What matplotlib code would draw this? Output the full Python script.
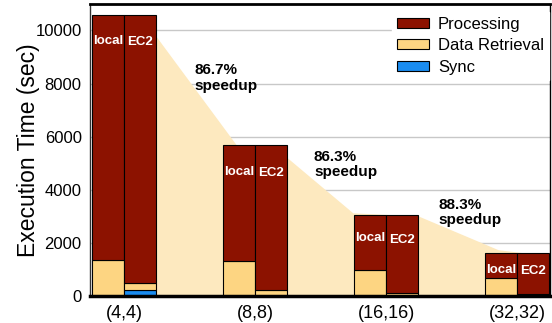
import matplotlib
matplotlib.use("Agg")
import matplotlib.pyplot as plt
from matplotlib.patches import Polygon
import numpy as np

# data
configs = ["(4,4)", "(8,8)", "(16,16)", "(32,32)"]
local_retrieval = [1380, 1310, 1000, 680]
local_processing = [9220, 4370, 2070, 950]
ec2_sync = [230, 0, 0, 0]
ec2_retrieval = [270, 240, 120, 90]
ec2_processing = [10100, 5440, 2950, 1540]
speedups = ["86.7%", "86.3%", "88.3%"]

# outline of the shaded "speedup" band (data coordinates)
shade_x = [0.25, 0.25, 0.86, 1.25, 1.75, 2.25, 2.86, 3.25, 3.25]
shade_y = [0, 9750, 5680, 5190, 3120, 3000, 1730, 1500, 0]

C_PROC = "#8c1200"
C_DATA = "#fdd582"
C_SYNC = "#1a8cf0"
C_SHADE = "#fde9bf"


def use_custom_matplotlib_formatting():
    matplotlib.rcParams["font.family"] = ["Liberation Sans", "DejaVu Sans"]
    matplotlib.rcParams["font.size"] = 12.0
    matplotlib.rcParams["xtick.major.size"] = 0
    matplotlib.rcParams["ytick.major.size"] = 0


def main():
    use_custom_matplotlib_formatting()

    fig = plt.figure(figsize=(5.52, 3.23), dpi=100)
    ax = fig.add_axes([0.163, 0.083, 0.833, 0.905])

    x = np.arange(len(configs))
    width = 0.245
    xl = x - width / 2
    xe = x + width / 2

    ax.yaxis.grid(True, color="#c8c8c8", linewidth=1.0, zorder=0)
    ax.set_axisbelow(True)

    shade = Polygon(np.column_stack([shade_x, shade_y]), closed=True,
                    facecolor=C_SHADE, edgecolor="none", zorder=1)
    ax.add_patch(shade)

    kw = dict(width=width, edgecolor="black", linewidth=0.8, zorder=2)
    ax.bar(xl, local_retrieval, color=C_DATA, **kw)
    ax.bar(xl, local_processing, bottom=local_retrieval, color=C_PROC, **kw)

    ax.bar(xe, ec2_sync, color=C_SYNC, label="Sync", **kw)
    ax.bar(xe, ec2_retrieval, bottom=ec2_sync, color=C_DATA,
           label="Data Retrieval", **kw)
    ec2_base = np.array(ec2_sync) + np.array(ec2_retrieval)
    ax.bar(xe, ec2_processing, bottom=ec2_base, color=C_PROC,
           label="Processing", **kw)

    local_top = np.array(local_retrieval) + np.array(local_processing)
    ec2_top = ec2_base + np.array(ec2_processing)

    # labels inside the bars, dropped a few points below the top
    drop = [19, 19, 17, 12]
    for i in range(len(configs)):
        ax.annotate("local", (xl[i], local_top[i]), xytext=(0, -drop[i]),
                    textcoords="offset points", ha="center", va="center",
                    color="white", fontweight="bold", fontsize=9.5, zorder=3)
        ax.annotate("EC2", (xe[i], ec2_top[i]), xytext=(0, -drop[i] - 1),
                    textcoords="offset points", ha="center", va="center",
                    color="white", fontweight="bold", fontsize=9.5, zorder=3)

    # speedup annotations between groups
    text_pos = [(0.54, 8760), (1.45, 5500), (2.40, 3700)]
    for s, (tx, ty) in zip(speedups, text_pos):
        ax.text(tx, ty, s + "\nspeedup", ha="left", va="top",
                fontweight="bold", fontsize=11, linespacing=1.1, zorder=3)

    ax.set_xlim(-0.26, 3.25)
    ax.set_ylim(0, 11000)
    ax.set_xticks(x)
    ax.set_xticklabels(configs, fontsize=13)
    ax.set_yticks(np.arange(0, 10001, 2000))
    ax.tick_params(axis="y", labelsize=12, pad=6)
    ax.tick_params(axis="x", pad=6)
    ax.set_ylabel("Execution Time (sec)", fontsize=16.5, labelpad=-3)

    ax.spines["top"].set_linewidth(2.0)
    ax.spines["bottom"].set_linewidth(2.5)
    ax.spines["left"].set_linewidth(1.0)
    ax.spines["left"].set_color("#333333")
    ax.spines["right"].set_linewidth(1.0)

    handles, labels = ax.get_legend_handles_labels()
    leg = ax.legend(handles[::-1], labels[::-1], loc="upper right",
                    bbox_to_anchor=(1.0, 0.975),
                    fontsize=12, frameon=True, framealpha=1.0,
                    edgecolor="white", fancybox=False,
                    handlelength=1.9, handleheight=0.55, handletextpad=0.55,
                    labelspacing=0.38, borderpad=0.3, borderaxespad=0.05)
    leg.set_zorder(4)

    fig.savefig("out.png", dpi=100)


if __name__ == "__main__":
    main()
